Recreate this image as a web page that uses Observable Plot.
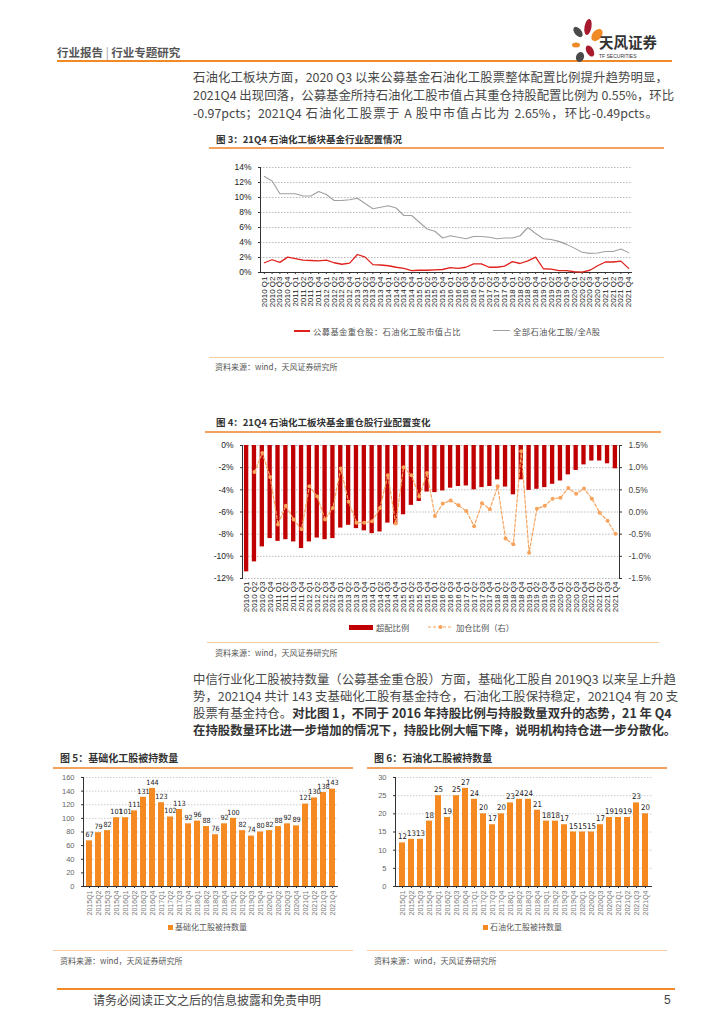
<!DOCTYPE html>
<html><head><meta charset="utf-8">
<script src="https://cdn.jsdelivr.net/npm/d3@7"></script>
<script src="https://cdn.jsdelivr.net/npm/@observablehq/plot@0.6"></script>
<style>
html,body{margin:0;padding:0;background:#fff;}
#page{position:relative;width:724px;height:1024px;overflow:hidden;font-family:"Noto Sans CJK SC","Liberation Sans",sans-serif;color:#404040;}
.abs{position:absolute;white-space:nowrap;}
.para{position:absolute;left:193px;width:475px;font-size:12.4px;height:17px;line-height:17px;text-align:justify;text-align-last:justify;color:#484848;white-space:nowrap;}
.ftitle{position:absolute;font-size:9.5px;font-weight:bold;color:#333;height:12px;line-height:12px;white-space:nowrap;}
.oline{position:absolute;height:1.5px;background:#f4a15d;}
.lline{position:absolute;height:1px;background:#f9c9a0;}
.src{position:absolute;font-size:8px;color:#555;height:10px;line-height:10px;white-space:nowrap;}
.leg{position:absolute;font-size:8.3px;color:#555;height:10px;line-height:10px;white-space:nowrap;}
b{color:#333;}
</style></head>
<body><div id="page">
<!-- header -->
<div class="abs" style="left:57px;top:45px;font-size:11.5px;font-weight:bold;color:#555;line-height:14px;">行业报告 <span style="font-weight:normal;color:#999">|</span> 行业专题研究</div>
<div class="abs" style="left:57px;top:60px;width:615px;height:2px;background:#f08a24;"></div>
<svg class="abs" style="left:566px;top:18px" width="110" height="46" viewBox="0 0 110 46">
  <ellipse cx="22" cy="9" rx="3.5" ry="8" fill="#a8192e" transform="rotate(10 22 9)"/>
  <ellipse cx="31" cy="17" rx="4.5" ry="7" fill="#f08a24" transform="rotate(40 31 17)"/>
  <ellipse cx="12" cy="14" rx="3.5" ry="6" fill="#4a4a4a" transform="rotate(-40 12 14)"/>
  <ellipse cx="10" cy="27" rx="4" ry="2.5" fill="#f08a24"/>
  <ellipse cx="24" cy="33" rx="3.5" ry="6" fill="#a8192e" transform="rotate(-30 24 33)"/>
  <ellipse cx="14" cy="39" rx="4" ry="5" fill="#4a4a4a" transform="rotate(20 14 39)"/>
  <text x="33" y="30" font-size="14.5" font-weight="bold" fill="#333" font-family="Noto Sans CJK SC">天风证券</text>
  <text x="33" y="40" font-size="5" fill="#333" font-family="Liberation Sans">TF SECURITIES</text>
</svg>

<!-- paragraph 1 -->
<div class="para" style="top:69px;">石油化工板块方面，2020 Q3 以来公募基金石油化工股票整体配置比例提升趋势明显，</div>
<div class="para" style="top:87px;">2021Q4 出现回落，公募基金所持石油化工股市值占其重仓持股配置比例为 0.55%，环比</div>
<div class="para" style="top:105px;width:465px;">-0.97pcts；2021Q4 石油化工股票于 A 股中市值占比为 2.65%，环比-0.49pcts。</div>

<!-- figure 3 -->
<div class="ftitle" style="left:216px;top:133px;">图 3：21Q4 石油化工板块基金行业配置情况</div>
<div class="oline" style="left:209px;top:147px;width:455px;"></div>
<div id="c3" class="abs" style="left:200px;top:155px;"></div>
<div class="abs" style="left:294px;top:330px;width:16px;height:1.5px;background:#e0201b;"></div>
<div class="leg" style="left:313px;top:326px;letter-spacing:0.4px;">公募基金重仓股：石油化工股市值占比</div>
<div class="abs" style="left:493px;top:330px;width:17px;height:1px;background:#a0a0a0;"></div>
<div class="leg" style="left:513px;top:326px;letter-spacing:0.4px;">全部石油化工股/全A股</div>
<div class="lline" style="left:209px;top:357px;width:455px;"></div>
<div class="src" style="left:215px;top:362px;">资料来源：wind，天风证券研究所</div>

<!-- figure 4 -->
<div class="ftitle" style="left:216px;top:416px;">图 4：21Q4 石油化工板块基金重仓股行业配置变化</div>
<div class="oline" style="left:205px;top:431px;width:456px;"></div>
<div id="c4" class="abs" style="left:200px;top:437px;"></div>
<div class="abs" style="left:349px;top:625px;width:24px;height:5px;background:#c00000;"></div>
<div class="leg" style="left:376px;top:622px;">超配比例</div>
<svg class="abs" style="left:428px;top:623px" width="25" height="8"><line x1="0" y1="4" x2="25" y2="4" stroke="#f7a35c" stroke-width="1.2" stroke-dasharray="3,2"/><circle cx="12.5" cy="4" r="2" fill="#f7a35c"/></svg>
<div class="leg" style="left:456px;top:622px;">加仓比例（右）</div>
<div class="lline" style="left:207px;top:642px;width:452px;"></div>
<div class="src" style="left:215px;top:648px;">资料来源：wind，天风证券研究所</div>

<!-- paragraph 2 -->
<div class="para" style="top:671px;">中信行业化工股被持数量（公募基金重仓股）方面，基础化工股自 2019Q3 以来呈上升趋</div>
<div class="para" style="top:688px;">势，2021Q4 共计 143 支基础化工股有基金持仓，石油化工股保持稳定，2021Q4 有 20 支</div>
<div class="para" style="top:705px;">股票有基金持仓。<b>对比图 1，不同于 2016 年持股比例与持股数量双升的态势，21 年 Q4</b></div>
<div class="para" style="top:722px;"><b>在持股数量环比进一步增加的情况下，持股比例大幅下降，说明机构持仓进一步分散化。</b></div>

<!-- figure 5 & 6 -->
<div class="ftitle" style="left:60px;top:752px;font-size:10px;">图 5：基础化工股被持数量</div>
<div class="oline" style="left:53px;top:767px;width:300px;"></div>
<div class="ftitle" style="left:374px;top:752px;font-size:10px;">图 6：石油化工股被持数量</div>
<div class="oline" style="left:367px;top:767px;width:300px;"></div>
<div id="c5" class="abs" style="left:50px;top:772px;"></div>
<div id="c6" class="abs" style="left:360px;top:772px;"></div>
<div class="abs" style="left:168px;top:925px;width:5px;height:5px;background:#f58a23;"></div>
<div class="leg" style="left:175px;top:922px;font-size:8px;">基础化工股被持数量</div>
<div class="abs" style="left:483px;top:925px;width:5px;height:5px;background:#f58a23;"></div>
<div class="leg" style="left:490px;top:922px;font-size:8px;">石油化工股被持数量</div>
<div class="lline" style="left:53px;top:950px;width:300px;"></div>
<div class="lline" style="left:367px;top:950px;width:300px;"></div>
<div class="src" style="left:60px;top:956px;">资料来源：wind，天风证券研究所</div>
<div class="src" style="left:374px;top:956px;">资料来源：wind，天风证券研究所</div>

<!-- footer -->
<div class="abs" style="left:57px;top:988px;width:618px;height:2px;background:#f08a24;"></div>
<div class="abs" style="left:93px;top:992px;font-size:12px;line-height:16px;color:#444;">请务必阅读正文之后的信息披露和免责申明</div>
<div class="abs" style="left:664px;top:992px;font-size:12px;line-height:16px;color:#444;font-family:'Liberation Sans';">5</div>
</div>

<script>
// ---------- data ----------
const quarters48 = ["2010 Q1","2010 Q2","2010 Q3","2010 Q4","2011 Q1","2011 Q2","2011 Q3","2011 Q4",
"2012 Q1","2012 Q2","2012 Q3","2012 Q4","2013 Q1","2013 Q2","2013 Q3","2013 Q4",
"2014 Q1","2014 Q2","2014 Q3","2014 Q4","2015 Q1","2015 Q2","2015 Q3","2015 Q4",
"2016 Q1","2016 Q2","2016 Q3","2016 Q4","2017 Q1","2017 Q2","2017 Q3","2017 Q4",
"2018 Q1","2018 Q2","2018 Q3","2018 Q4","2019 Q1","2019 Q2","2019 Q3","2019 Q4",
"2020 Q1","2020 Q2","2020 Q3","2020 Q4","2021 Q1","2021 Q2","2021 Q3","2021 Q4"];

// Fig 3 (%)
const fundPetroShare = [1.3,1.7,1.35,2.05,1.85,1.65,1.6,1.55,1.65,1.3,1.1,1.25,2.4,2.05,1.05,1.0,
0.9,0.7,0.55,0.25,0.3,0.3,0.35,0.4,0.65,0.55,0.7,1.15,1.15,0.7,0.7,0.85,
1.45,1.2,1.55,2.05,0.5,0.45,0.25,0.25,0.1,0.05,0.3,0.9,1.4,1.4,1.52,0.55];
const petroShareAllA = [12.8,12.2,10.5,10.5,10.5,10.2,10.2,10.8,10.4,9.6,9.6,9.7,9.9,9.2,8.5,8.7,
8.9,8.6,7.6,7.6,6.7,5.8,5.5,4.6,4.9,4.7,4.5,4.8,4.8,4.7,4.5,4.6,
4.6,4.9,6.0,5.2,4.5,4.4,4.15,3.75,3.25,2.7,2.55,2.6,2.8,2.8,3.14,2.65];

// Fig 4 (%)
const overweight = [-11.4,-10.5,-9.15,-8.4,-8.65,-8.5,-8.7,-9.3,-8.7,-8.35,-8.5,-8.4,-7.45,-7.2,-7.5,-7.7,
-7.95,-7.8,-7.0,-7.15,-6.25,-5.4,-5.05,-4.2,-4.25,-4.1,-3.85,-3.7,-3.65,-4.0,-3.8,-3.7,
-3.1,-3.75,-4.45,-3.1,-4.05,-3.95,-3.8,-3.5,-3.2,-2.65,-2.25,-1.75,-1.4,-1.4,-1.65,-2.1];
const addPosition = [null,0.9,1.33,0.79,-0.28,0.14,-0.17,-0.39,0.58,0.35,-0.17,0.09,0.98,0.23,-0.24,-0.24,
-0.21,0.09,0.83,-0.26,1.01,0.83,0.35,0.88,-0.09,0.19,0.26,0.15,0.02,-0.32,0.2,0.06,
0.58,-0.6,-0.73,1.37,-0.92,0.075,0.14,0.3,0.32,0.54,0.41,0.53,0.3,-0.015,-0.2,-0.49];
const leftTicks4 = [0,-2,-4,-6,-8,-10,-12];

// Fig 5 / 6
const quarters28 = ["2015Q1","2015Q2","2015Q3","2015Q4","2016Q1","2016Q2","2016Q3","2016Q4",
"2017Q1","2017Q2","2017Q3","2017Q4","2018Q1","2018Q2","2018Q3","2018Q4",
"2019Q1","2019Q2","2019Q3","2019Q4","2020Q1","2020Q2","2020Q3","2020Q4",
"2021Q1","2021Q2","2021Q3","2021Q4"];
const basicChemCount = [67,79,82,101,101,111,131,144,123,102,113,92,96,88,76,92,100,82,74,80,82,88,92,89,121,130,138,143];
const petroChemCount = [12,13,13,18,25,19,25,27,24,20,17,20,23,24,24,21,18,18,17,15,15,15,17,19,19,19,23,20];

// ---------- charts ----------
const baseStyle = {fontFamily:"'Liberation Sans', Arial, sans-serif", fontSize:"8px", color:"#333", background:"transparent", overflow:"visible"};

// Fig 3
{
  const d = quarters48.map((q,i)=>({q, red:fundPetroShare[i], gray:petroShareAllA[i]}));
  const chart = Plot.plot({
    width:450, height:155, marginLeft:60, marginRight:18, marginTop:12, marginBottom:38,
    style: baseStyle,
    x:{type:"point", domain:quarters48, padding:0.5},
    y:{domain:[0,14]},
    marks:[
      Plot.gridY([2,4,6,8,10,12,14], {stroke:"#bbb", strokeOpacity:1, strokeDasharray:"1.5,1.5"}),
      Plot.frame({anchor:"left", stroke:"#333"}),
      Plot.ruleY([0], {stroke:"#333"}),
      Plot.axisY([0,2,4,6,8,10,12,14], {tickFormat:d=>d+"%", tickSize:2, fontSize:8.5, fill:"#222", label:null}),
      Plot.axisX({tickRotate:-90, tickSize:2, tickPadding:2, fontSize:8, fill:"#222", label:null}),
      Plot.line(d, {x:"q", y:"gray", stroke:"#a0a0a0", strokeWidth:1.1}),
      Plot.line(d, {x:"q", y:"red", stroke:"#e0201b", strokeWidth:1.3})
    ]
  });
  document.getElementById("c3").appendChild(chart);
}

// Fig 4 (right axis mapped onto left scale: left = 4*right - 6)
{
  const d = quarters48.map((q,i)=>({q, ow:overweight[i], add:addPosition[i]}));
  const dl = d.filter(e=>e.add!=null);
  const chart = Plot.plot({
    width:460, height:185, marginLeft:42, marginRight:41, marginTop:8, marginBottom:44,
    style: baseStyle,
    x:{type:"band", domain:quarters48, paddingInner:0.45, paddingOuter:0.25},
    y:{domain:[-12,0]},
    marks:[
      Plot.gridY(leftTicks4, {stroke:"#bbb", strokeOpacity:1, strokeDasharray:"1.5,1.5"}),
      Plot.barY(d, {x:"q", y:"ow", fill:"#c00000"}),
      Plot.frame({anchor:"left", stroke:"#333"}),
      Plot.frame({anchor:"right", stroke:"#333"}),
      Plot.axisY(leftTicks4, {anchor:"left", tickFormat:v=>v+"%", tickSize:2, fontSize:8.5, fill:"#222", label:null}),
      Plot.axisY(leftTicks4, {anchor:"right", tickFormat:v=>((v+6)/4).toFixed(1)+"%", tickSize:2, fontSize:8.5, fill:"#444", label:null}),
      Plot.axisX({tickRotate:-90, tickSize:0, tickPadding:3, fontSize:8, fill:"#222", label:null}),
      Plot.line(dl, {x:"q", y:e=>4*e.add-6, stroke:"#f7a35c", strokeWidth:1.2, strokeDasharray:"3,2"}),
      Plot.dot(dl, {x:"q", y:e=>4*e.add-6, r:2, fill:"#f7a35c"})
    ]
  });
  document.getElementById("c4").appendChild(chart);
}

// Fig 5 & 6
function countChart(values, yMax, yStep, ml, mr, fs) {
  const d = quarters28.map((q,i)=>({q, v:values[i]}));
  const ticks = d3.range(0, yMax + yStep, yStep);
  return Plot.plot({
    width:300, height:150, marginLeft:ml, marginRight:mr, marginTop:5, marginBottom:36,
    style: baseStyle,
    x:{type:"band", domain:quarters28, paddingInner:0.28, paddingOuter:0.15},
    y:{domain:[0,yMax]},
    marks:[
      Plot.gridY(ticks.slice(1), {stroke:"#ccc", strokeOpacity:1, strokeDasharray:"1.5,1.5"}),
      Plot.barY(d, {x:"q", y:"v", fill:"#f58a23"}),
      Plot.frame({anchor:"left", stroke:"#333"}),
      Plot.ruleY([0], {stroke:"#333"}),
      Plot.axisY(ticks, {tickSize:2, fontSize:7.5, fill:"#666", label:null}),
      Plot.axisX({tickRotate:-90, tickSize:2, tickPadding:2, fontSize:7, fill:"#777", label:null}),
      Plot.text(d, {x:"q", y:"v", text:e=>String(e.v), dy:-6, fontSize:fs, fill:"#222", fontFamily:"'Liberation Sans Narrow','DejaVu Sans Condensed','Liberation Sans',sans-serif"})
    ]
  });
}
document.getElementById("c5").appendChild(countChart(basicChemCount, 160, 20, 33, 12, 7.2));
document.getElementById("c6").appendChild(countChart(petroChemCount, 30, 5, 35, 8, 7.8));
</script>
</body></html>
